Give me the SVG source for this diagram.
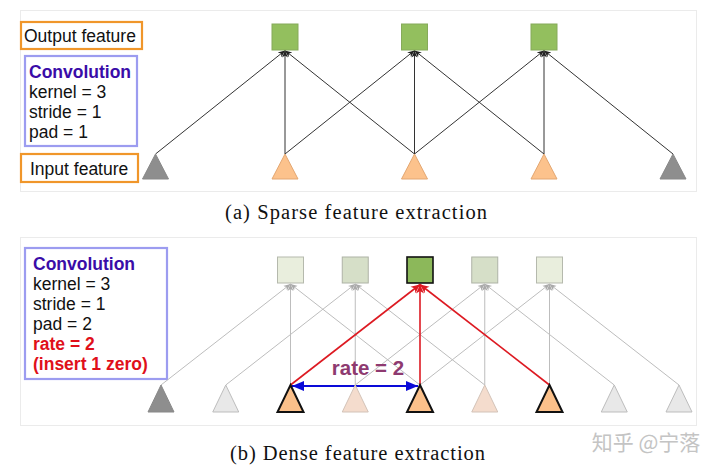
<svg xmlns="http://www.w3.org/2000/svg" width="720" height="470" viewBox="0 0 720 470">
<defs>
<style>
.frame{fill:#fff;stroke:#ebebeb;stroke-width:1}
.lbl{font-family:"Liberation Sans",Arial,sans-serif;font-size:17.5px;fill:#111}
.conv{font-family:"Liberation Sans",Arial,sans-serif;font-size:17.5px;font-weight:bold;fill:#3a0ca8}
.red{font-family:"Liberation Sans",Arial,sans-serif;font-size:17.5px;font-weight:bold;fill:#e0101a}
.cap{font-family:"Liberation Serif","Times New Roman",serif;font-size:20.5px;fill:#111}
.obox{fill:#fff;stroke:#f0962a;stroke-width:2.2}
.cbox{fill:#fff;stroke:#9c9cf0;stroke-width:2.2}
.dk{stroke:#333;stroke-width:1;fill:none;marker-end:url(#ahDk)}
.gy{stroke:#bdbdbd;stroke-width:1;fill:none;marker-end:url(#ahGy)}
.rd{stroke:#dd1a22;stroke-width:1.6;fill:none;marker-end:url(#ahRd)}
.sqA{fill:#93bf5e;stroke:#86aa5a;stroke-width:1}
.triG{fill:#8e8e8e;stroke:#888;stroke-width:1}
.triO{fill:#fcc28c;stroke:#e3a772;stroke-width:1}
.triOB{fill:#fbc08a;stroke:#111;stroke-width:2}
.triL{fill:#e8e8e8;stroke:#bdbdbd;stroke-width:1}
.triP{fill:#f4dccd;stroke:#d3c3b8;stroke-width:1}
</style>
<marker id="ahDk" markerUnits="userSpaceOnUse" markerWidth="10" markerHeight="10" refX="7" refY="4" orient="auto"><path d="M0,1 L7,4 L0,7 L2,4 Z" fill="#222"/></marker>
<marker id="ahGy" markerUnits="userSpaceOnUse" markerWidth="10" markerHeight="10" refX="7" refY="4" orient="auto"><path d="M0,1 L7,4 L0,7 L2,4 Z" fill="#aaa"/></marker>
<marker id="ahRd" markerUnits="userSpaceOnUse" markerWidth="12" markerHeight="12" refX="9" refY="5" orient="auto"><path d="M0,1 L9,5 L0,9 L2.5,5 Z" fill="#dd1a22"/></marker>
<marker id="ahBl" markerUnits="userSpaceOnUse" markerWidth="14" markerHeight="12" refX="12" refY="5" orient="auto-start-reverse"><path d="M0,0 L12,5 L0,10 Z" fill="#0a0ad8"/></marker>
</defs>
<rect width="720" height="470" fill="#fff"/>

<!-- Panel (a) -->
<rect class="frame" x="20.5" y="10.5" width="676" height="181"/>
<g id="legendA">
<g id="outLabel"><rect class="obox" x="21" y="22" width="121" height="27"/><text class="lbl" x="24" y="42">Output feature</text></g>
<g id="convA"><rect class="cbox" x="25" y="56" width="112" height="90"/>
<text class="conv" x="29" y="77.5">Convolution</text>
<text class="lbl" x="29" y="97.5">kernel = 3</text>
<text class="lbl" x="29" y="117.5">stride = 1</text>
<text class="lbl" x="29" y="137.5">pad = 1</text></g>
<g id="inLabel"><rect class="obox" x="21" y="154" width="117" height="28"/><text class="lbl" x="30" y="175">Input feature</text></g>
</g>
<g id="connectorsA">
<line class="dk" x1="155.5" y1="154" x2="285" y2="50.5"/>
<line class="dk" x1="285" y1="154" x2="285" y2="50.5"/>
<line class="dk" x1="414.5" y1="154" x2="285" y2="50.5"/>
<line class="dk" x1="285" y1="154" x2="414.5" y2="50.5"/>
<line class="dk" x1="414.5" y1="154" x2="414.5" y2="50.5"/>
<line class="dk" x1="544" y1="154" x2="414.5" y2="50.5"/>
<line class="dk" x1="414.5" y1="154" x2="544" y2="50.5"/>
<line class="dk" x1="544" y1="154" x2="544" y2="50.5"/>
<line class="dk" x1="673" y1="154" x2="544" y2="50.5"/>
</g>
<g id="outA1"><rect class="sqA" x="272" y="24" width="26" height="26"/></g>
<g id="outA2"><rect class="sqA" x="401.5" y="24" width="26" height="26"/></g>
<g id="outA3"><rect class="sqA" x="531" y="24" width="26" height="26"/></g>
<g id="inA1"><polygon class="triG" points="155.5,154 168.5,179 142.5,179"/></g>
<g id="inA2"><polygon class="triO" points="285,154 298,179 272,179"/></g>
<g id="inA3"><polygon class="triO" points="414.5,154 427.5,179 401.5,179"/></g>
<g id="inA4"><polygon class="triO" points="544,154 557,179 531,179"/></g>
<g id="inA5"><polygon class="triG" points="673,154 686,179 660,179"/></g>
<text class="cap" x="225" y="219" textLength="262" lengthAdjust="spacing">(a) Sparse feature extraction</text>

<!-- Panel (b) -->
<rect class="frame" x="20.5" y="237.5" width="676" height="188"/>
<g id="convB"><rect class="cbox" x="25" y="248" width="142" height="131"/>
<text class="conv" x="33" y="270">Convolution</text>
<text class="lbl" x="33" y="290">kernel = 3</text>
<text class="lbl" x="33" y="310">stride = 1</text>
<text class="lbl" x="33" y="330">pad = 2</text>
<text class="red" x="33" y="350">rate = 2</text>
<text class="red" x="33" y="370">(insert 1 zero)</text></g>
<g id="connectorsB">
<line class="gy" x1="161" y1="385" x2="290.5" y2="284"/>
<line class="gy" x1="290.5" y1="385" x2="290.5" y2="284"/>
<line class="gy" x1="420" y1="385" x2="290.5" y2="284"/>
<line class="gy" x1="225.75" y1="385" x2="355.25" y2="284"/>
<line class="gy" x1="355.25" y1="385" x2="355.25" y2="284"/>
<line class="gy" x1="484.75" y1="385" x2="355.25" y2="284"/>
<line class="gy" x1="355.25" y1="385" x2="484.75" y2="284"/>
<line class="gy" x1="484.75" y1="385" x2="484.75" y2="284"/>
<line class="gy" x1="614.25" y1="385" x2="484.75" y2="284"/>
<line class="gy" x1="420" y1="385" x2="549.5" y2="284"/>
<line class="gy" x1="549.5" y1="385" x2="549.5" y2="284"/>
<line class="gy" x1="679" y1="385" x2="549.5" y2="284"/>
<line class="rd" x1="290.5" y1="385" x2="420" y2="284.5"/>
<line class="rd" x1="420" y1="385" x2="420" y2="284.5"/>
<line class="rd" x1="549.5" y1="385" x2="420" y2="284.5"/>
<line stroke="#0a0ad8" stroke-width="2" marker-start="url(#ahBl)" marker-end="url(#ahBl)" x1="292" y1="386" x2="418" y2="386"/>
<text x="368" y="375" text-anchor="middle" font-family="'Liberation Sans',Arial,sans-serif" font-size="20.5" font-weight="bold" fill="#8e3a70">rate = 2</text>
</g>
<g id="outB1"><rect fill="#e9eedd" stroke="#b5b9ad" stroke-width="1" x="277.5" y="257" width="26" height="26"/></g>
<g id="outB2"><rect fill="#d6dfc8" stroke="#aeb3a6" stroke-width="1" x="342.25" y="257" width="26" height="26"/></g>
<g id="outB3"><rect fill="#8cb85a" stroke="#111" stroke-width="1.6" x="407" y="257" width="26" height="26"/></g>
<g id="outB4"><rect fill="#d6dfc8" stroke="#aeb3a6" stroke-width="1" x="471.75" y="257" width="26" height="26"/></g>
<g id="outB5"><rect fill="#e9eedd" stroke="#b5b9ad" stroke-width="1" x="536.5" y="257" width="26" height="26"/></g>
<g id="inB1"><polygon class="triG" points="161,385 174,412 148,412"/></g>
<g id="inB2"><polygon class="triL" points="225.75,385 238.75,412 212.75,412"/></g>
<g id="inB3"><polygon class="triOB" points="290.5,385 303.5,412 277.5,412"/></g>
<g id="inB4"><polygon class="triP" points="355.25,385 368.25,412 342.25,412"/></g>
<g id="inB5"><polygon class="triOB" points="420,385 433,412 407,412"/></g>
<g id="inB6"><polygon class="triP" points="484.75,385 497.75,412 471.75,412"/></g>
<g id="inB7"><polygon class="triOB" points="549.5,385 562.5,412 536.5,412"/></g>
<g id="inB8"><polygon class="triL" points="614.25,385 627.25,412 601.25,412"/></g>
<g id="inB9"><polygon class="triL" points="679,385 692,412 666,412"/></g>
<text class="cap" x="230" y="460" textLength="255" lengthAdjust="spacing">(b) Dense feature extraction</text>
<text x="646" y="450" text-anchor="middle" font-family="'Noto Sans CJK SC',sans-serif" font-size="21" fill="#c4c4c4">知乎 @宁落</text>
</svg>
